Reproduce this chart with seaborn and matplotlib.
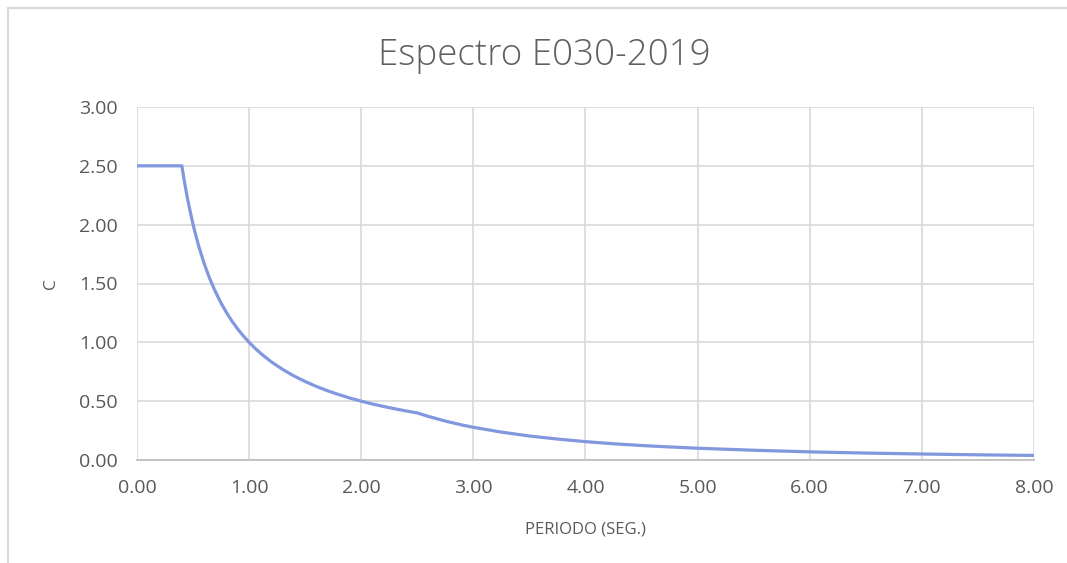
import matplotlib
matplotlib.use("Agg")
import matplotlib.pyplot as plt
import seaborn as sns
import pandas as pd
from matplotlib.lines import Line2D

# Periodo T (s) y factor de amplificacion sismica C
periodo = [0.00, 0.10, 0.20, 0.30, 0.40, 0.42, 0.45, 0.50, 0.55, 0.60, 0.65, 0.70,
           0.75, 0.80, 0.85, 0.90, 0.95, 1.00, 1.05, 1.10, 1.15, 1.20, 1.30,
           1.40, 1.50, 1.60, 1.70, 1.80, 1.90, 2.00, 2.10, 2.20, 2.30, 2.40,
           2.50, 2.60, 2.75, 2.90, 3.00, 3.25, 3.50, 3.75, 4.00, 4.25, 4.50,
           4.75, 5.00, 5.50, 6.00, 6.50, 7.00, 7.50, 8.00]
factor_c = [2.500, 2.500, 2.500, 2.500, 2.500, 2.381, 2.222, 2.000, 1.818, 1.667,
            1.538, 1.429, 1.333, 1.250, 1.176, 1.111, 1.053, 1.000, 0.952, 0.909,
            0.870, 0.833, 0.769, 0.714, 0.667, 0.625, 0.588, 0.556, 0.526, 0.500,
            0.476, 0.455, 0.435, 0.417, 0.400, 0.370, 0.331, 0.297, 0.278, 0.237,
            0.204, 0.178, 0.156, 0.138, 0.123, 0.111, 0.100, 0.083, 0.069, 0.059,
            0.051, 0.044, 0.039]

x_ticks = [0, 1, 2, 3, 4, 5, 6, 7, 8]
y_ticks = [0.0, 0.5, 1.0, 1.5, 2.0, 2.5, 3.0]

titulo = "Espectro E030-2019"
eje_x = "PERIODO (SEG.)"
eje_y = "C"

df = pd.DataFrame({"T": periodo, "C": factor_c})

sns.set_theme(style="white")
plt.rcParams["font.family"] = ["Open Sans", "DejaVu Sans"]

texto = "#595959"
rejilla = "#D9D9D9"

fig = plt.figure(figsize=(10.67, 5.63), dpi=100)
ax = fig.add_axes([137 / 1067, 1 - 460 / 563, (1034 - 137) / 1067, (460 - 107) / 563])

sns.lineplot(data=df, x="T", y="C", ax=ax, color="#8197DE", linewidth=2.3,
             zorder=3)

ax.set_xlim(0, 8)
ax.set_ylim(0, 3)
ax.set_xticks(x_ticks)
ax.set_yticks(y_ticks)
ax.set_xticklabels([f"{v:.2f}" for v in x_ticks])
ax.set_yticklabels([f"{v:.2f}" for v in y_ticks])
ax.tick_params(axis="both", length=0, labelsize=14, labelcolor=texto)
ax.tick_params(axis="x", pad=14)
ax.tick_params(axis="y", pad=14)

ax.grid(True, color=rejilla, linewidth=1.2)
ax.set_axisbelow(True)
for lado in ["top", "right", "left"]:
    ax.spines[lado].set_visible(False)
ax.spines["bottom"].set_color("#BFBFBF")
ax.spines["bottom"].set_linewidth(1.3)

ax.set_xlabel(eje_x, fontsize=12, color=texto, labelpad=17)
ax.set_ylabel(eje_y, fontsize=12.5, color=texto, labelpad=14)

fig.text(544 / 1067, 1 - 55 / 563, titulo, ha="center", va="center",
         fontsize=26.5, color="#606060", fontweight="light")

# marco exterior del grafico
fig.add_artist(Line2D([8 / 1067, 1.0], [1 - 8 / 563, 1 - 8 / 563],
                      transform=fig.transFigure, color=rejilla, linewidth=1.5))
fig.add_artist(Line2D([8 / 1067, 8 / 1067], [0.0, 1 - 8 / 563],
                      transform=fig.transFigure, color=rejilla, linewidth=1.5))

fig.savefig("out.png", dpi=100, facecolor="white")
